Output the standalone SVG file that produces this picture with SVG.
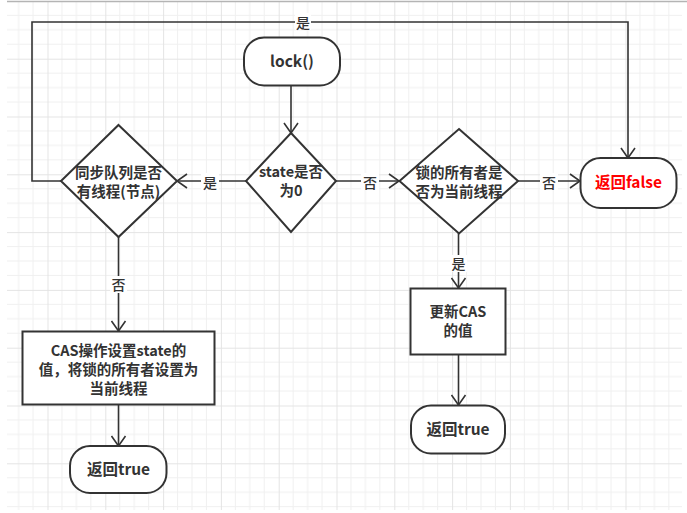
<svg xmlns="http://www.w3.org/2000/svg" width="687" height="513" viewBox="0 0 687 513">
<style>
.node{fill:#fff;stroke:#333;stroke-width:2}
.t{font-family:"Noto Sans CJK SC","Liberation Sans",sans-serif;font-size:14.5px;font-weight:700;fill:#333;text-anchor:middle}
.big{font-size:15.5px}
.lbl{font-family:"Noto Sans CJK SC","Liberation Sans",sans-serif;font-size:14px;font-weight:500;fill:#333;text-anchor:middle}
.edge{fill:none;stroke:#333;stroke-width:1.6}
.lb{fill:#fff}
</style>
<defs>
<pattern id="grid" patternUnits="userSpaceOnUse" x="-10.3" y="0.9" width="57.8" height="57.8">
<path d="M14.45 0V57.8M28.9 0V57.8M43.35 0V57.8M0 14.45H57.8M0 28.9H57.8M0 43.35H57.8" stroke="#f0f0f0" stroke-width="1" fill="none"/>
<path d="M0.5 0V57.8M0 0.5H57.8" stroke="#e4e4e4" stroke-width="1" fill="none"/>
</pattern>
<marker id="arr" viewBox="0 0 12 16" refX="11" refY="8" markerWidth="12" markerHeight="16" markerUnits="userSpaceOnUse" orient="auto">
<path d="M1 1L11 8L1 15" fill="none" stroke="#333" stroke-width="1.6"/>
</marker>
</defs>
<rect width="687" height="513" fill="#fff"/>
<rect x="7" y="1" width="675" height="509" fill="url(#grid)"/>
<line x1="7" y1="1.5" x2="687" y2="1.5" stroke="#b4b4b4" stroke-width="1.5"/>

<g id="connectors">
<path class="edge" d="M291 86V133" marker-end="url(#arr)"/>
<path class="edge" d="M246 181H177" marker-end="url(#arr)"/>
<path class="edge" d="M336 181H399" marker-end="url(#arr)"/>
<path class="edge" d="M518 181H580" marker-end="url(#arr)"/>
<path class="edge" d="M61 181H32V22H628V158" marker-end="url(#arr)"/>
<path class="edge" d="M118.5 237V331" marker-end="url(#arr)"/>
<path class="edge" d="M118.5 405V446" marker-end="url(#arr)"/>
<path class="edge" d="M458.5 233V288" marker-end="url(#arr)"/>
<path class="edge" d="M458.5 355V405" marker-end="url(#arr)"/>
<rect class="lb" x="295" y="13" width="16" height="17"/>
<text class="lbl" x="303" y="28">是</text>
<rect class="lb" x="201" y="173" width="18" height="17"/>
<text class="lbl" x="210" y="188">是</text>
<rect class="lb" x="361" y="173" width="18" height="17"/>
<text class="lbl" x="370" y="188">否</text>
<rect class="lb" x="540" y="173" width="18" height="17"/>
<text class="lbl" x="549" y="188">否</text>
<rect class="lb" x="110" y="276" width="17" height="17"/>
<text class="lbl" x="118.5" y="290">否</text>
<rect class="lb" x="450" y="255" width="17" height="17"/>
<text class="lbl" x="458.5" y="269">是</text>
</g>

<g id="lock">
<rect class="node" x="244" y="37.5" width="96" height="48" rx="20"/>
<text class="t big" x="292" y="67">lock()</text>
</g>
<g id="state">
<polygon class="node" points="291,133 336,181 291,232 246,181"/>
<text class="t" x="291" y="177">state是否</text>
<text class="t" x="291" y="196">为0</text>
</g>
<g id="queue">
<polygon class="node" points="118.5,125 177,181 118.5,237 61,181"/>
<text class="t" x="118.5" y="178">同步队列是否</text>
<text class="t" x="118.5" y="197">有线程(节点)</text>
</g>
<g id="owner">
<polygon class="node" points="459,129 518,181 459,233.5 399.5,181"/>
<text class="t" x="459" y="178">锁的所有者是</text>
<text class="t" x="459" y="197">否为当前线程</text>
</g>
<g id="false">
<rect class="node" x="580.5" y="158" width="96" height="50" rx="20"/>
<text class="t big" x="628.5" y="188" style="fill:#f00">返回false</text>
</g>
<g id="cas">
<rect class="node" x="22.5" y="331.5" width="192" height="73"/>
<text class="t" x="118.5" y="356">CAS操作设置state的</text>
<text class="t" x="118.5" y="375">值，将锁的所有者设置为</text>
<text class="t" x="118.5" y="394">当前线程</text>
</g>
<g id="true1">
<rect class="node" x="70" y="446" width="96.5" height="47" rx="20"/>
<text class="t big" x="118.5" y="475">返回true</text>
</g>
<g id="update">
<rect class="node" x="410.5" y="288.5" width="95" height="66"/>
<text class="t" x="458" y="317">更新CAS</text>
<text class="t" x="458" y="336">的值</text>
</g>
<g id="true2">
<rect class="node" x="411" y="405.5" width="94" height="48" rx="20"/>
<text class="t big" x="458" y="435">返回true</text>
</g>
</svg>
